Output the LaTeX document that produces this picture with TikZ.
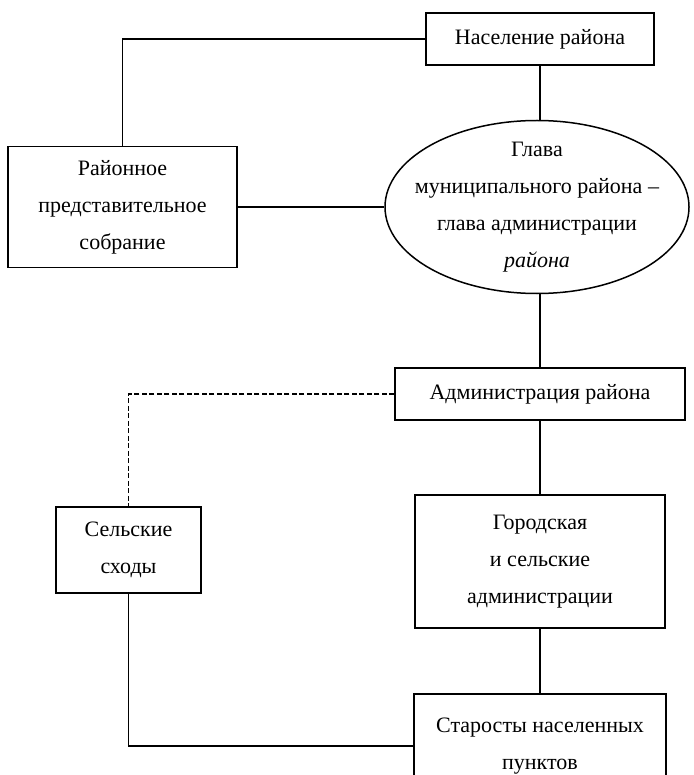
\documentclass[tikz,border=0pt]{standalone}
\usepackage{fontspec}
\setmainfont{Liberation Serif}
\usepackage{tikz}
\usetikzlibrary{
  positioning,
  shapes.geometric
}

\begin{document}
\begin{tikzpicture}[
  x=1pt, y=-1pt,
  box/.style={draw, line width=1.5pt, align=center, inner sep=0pt,
    font=\fontsize{22}{37}\selectfont},
  oval/.style={draw, ellipse, line width=1.5pt, align=center,
    inner xsep=-22pt, inner ysep=-8pt,
    font=\fontsize{22}{37}\selectfont},
  link/.style={line width=1.5pt},
  dlink/.style={line width=1.5pt, dash pattern=on 5pt off 2.5pt}
]
\useasboundingbox (0,0) rectangle (693,775);
\clip (0,0) rectangle (693,775);

% Top: population
\node[box, minimum width=228, minimum height=52] (pop) at (540,39) {Население района};

% Left: district assembly
\node[box, minimum width=229, minimum height=121] (sob) at (122.5,207)
  {Районное\\представительное\\собрание};

% Head of the district
\node[oval, minimum width=304, minimum height=173] (glava) at (537,207)
  {Глава\\муниципального района –\\глава администрации\\\textit{района}};

% Administration
\node[box, minimum width=290, minimum height=52] (adm) at (540,394) {Администрация района};

% Village gatherings
\node[box, minimum width=145, minimum height=86] (shod) at (128.5,550)
  {Сельские\\сходы};

% Town and village administrations
\node[box, minimum width=250, minimum height=133] (gor) at (540,561.5)
  {Городская\\и сельские\\администрации};

% Elders (cut at the bottom)
\node[box, minimum width=252, minimum height=104] (star) at (540,746)
  {Старосты населенных\\пунктов};

% Connectors
\draw[link] (pop.west) -| (sob.north);
\draw[link] (pop.south) -- (pop.south |- glava.north);
\draw[link] (sob.east) -- (glava.west);
\draw[link] (adm.north |- glava.south) -- (adm.north);
\draw[dlink] (adm.west) -| (shod.north);
\draw[link] (adm.south) -- (gor.north);
\draw[link] (gor.south) -- (star.north);
\draw[link] (shod.south) |- (star.west);

\end{tikzpicture}
\end{document}
